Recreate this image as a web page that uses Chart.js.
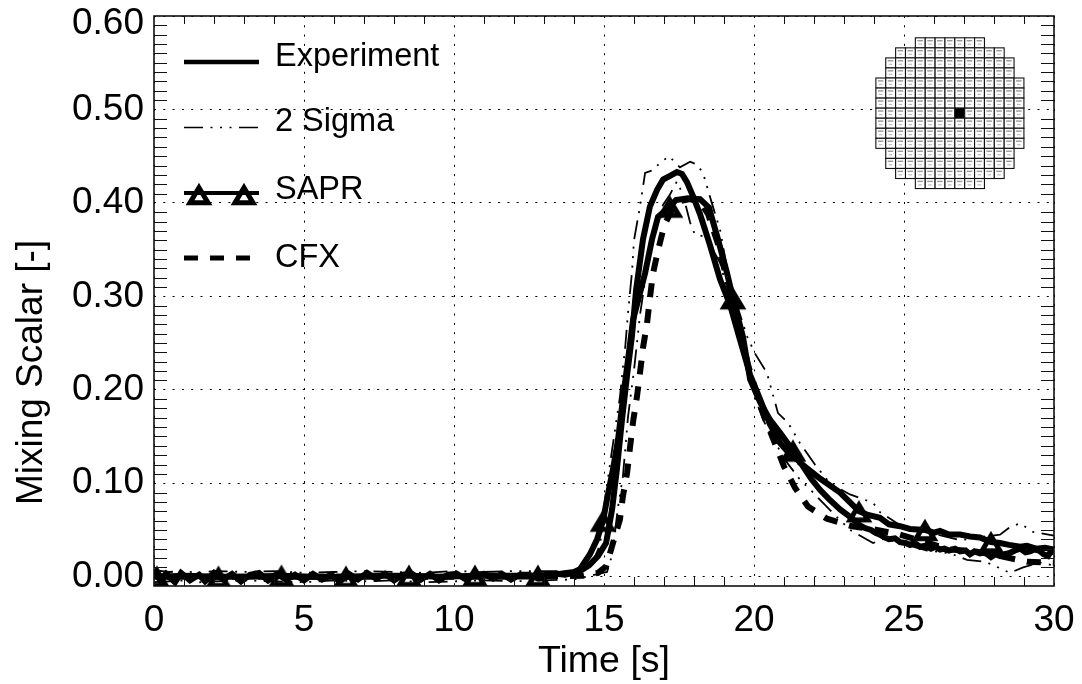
<!DOCTYPE html>
<html><head><meta charset="utf-8">
<style>html,body{margin:0;padding:0;background:#fff}canvas{display:block}#w{width:1082px;height:684px}</style>
<script src="https://cdn.jsdelivr.net/npm/chart.js@4"></script>
</head><body><div id="w"><canvas id="c" width="1082" height="684"></canvas></div>
<script>
const xTicks=[0,5,10,15,20,25,30];
const yTicks=[0,0.1,0.2,0.3,0.4,0.5,0.6];
const legendNames=["Experiment","2 Sigma","SAPR","CFX"];

const expT=[0,.2,.4,.7,.9,1.2,1.5,1.7,2,2.3,2.6,2.9,3.2,3.5,3.8,4.1,4.4,4.7,5,5.3,5.6,5.9,6.2,6.5,6.8,7.1,7.4,7.7,8,8.3,8.6,8.9,9.2,9.5,9.8,10.1,10.4,10.7,11,11.3,11.6,11.9,12.2,12.5,12.8,13.1,13.4,13.7,14,14.2,14.5,14.8,15.07,15.27,15.43,15.6,15.77,15.93,16.07,16.3,16.53,16.77,16.97,17.2,17.43,17.6,17.77,17.97,18.2,18.53,18.87,19.2,19.53,19.87,20.2,20.53,20.87,21.2,21.53,21.9,22.2,22.5,22.87,23.2,23.53,23.7,23.9,24.05,24.2,24.35,24.5,24.7,24.87,25.05,25.2,25.35,25.53,25.7,25.9,26.05,26.2,26.35,26.5,26.7,26.87,27.05,27.2,27.35,27.53,27.7,27.9,28.05,28.2,28.35,28.5,28.7,28.87,29.05,29.2,29.35,29.5,29.65,29.8,29.9,30];
const expV=[.008,-.004,.003,-.006,.004,-.004,.002,-.005,.004,-.003,.003,-.005,.002,.004,-.004,.003,-.003,.002,-.004,.003,-.003,.002,-.005,.003,-.003,.004,-.002,.003,-.004,.002,.003,-.003,.003,-.004,.002,.003,-.003,.002,.003,-.002,.003,-.003,.002,.002,-.002,.002,.003,.002,.004,.006,.012,.022,.036,.072,.115,.168,.216,.257,.307,.361,.396,.414,.425,.429,.433,.431,.422,.407,.388,.355,.318,.291,.254,.216,.19,.163,.143,.131,.123,.105,.093,.083,.072,.064,.055,.052,.05,.047,.045,.042,.04,.041,.037,.036,.034,.036,.032,.033,.03,.032,.029,.03,.028,.03,.027,.028,.024,.027,.025,.026,.021,.024,.022,.024,.025,.028,.03,.026,.027,.029,.028,.024,.022,.027,.026];

const saprT=[.1,1,2.15,3.2,4.25,5.3,6.4,7.4,8.5,9.6,10.7,11.8,12.8,13.5,14,14.2,14.53,14.77,14.97,15.13,15.3,15.47,15.63,15.8,15.97,16.37,16.6,16.8,17.2,17.4,17.8,18.2,18.5,18.8,19.1,19.3,19.63,19.87,20.2,20.53,20.87,21.3,21.53,22.2,22.87,23.5,23.8,24.2,24.5,24.87,25.2,25.7,26,26.2,26.5,26.87,27.2,27.53,27.9,28.2,28.5,28.87,29.1,29.4,29.7,30];
const saprV=[0,.001,0,0,.001,0,0,.001,.001,0,.001,.001,.001,.003,.005,.008,.024,.04,.06,.088,.115,.147,.19,.232,.275,.325,.361,.385,.396,.403,.405,.404,.395,.361,.325,.298,.257,.211,.187,.168,.154,.135,.122,.105,.09,.07,.066,.063,.056,.054,.051,.05,.047,.049,.045,.045,.043,.042,.037,.036,.034,.032,.033,.03,.031,.029];
const saprMarkers=[.1,2.15,4.25,6.4,8.5,10.7,12.8,14.97,17.2,19.3,21.3,23.5,25.7,27.9];

const upT=[0,.5,1,1.5,2,3,4,5,6,7,8,9,10,11,12,13,14,14.53,14.87,15.03,15.27,15.53,15.63,15.7,15.8,15.93,16,16.2,16.37,16.63,16.87,17.17,17.53,17.87,18.1,18.3,18.63,18.87,19.13,19.43,19.77,20.03,20.43,20.8,21.13,21.53,22.03,22.53,23.2,23.97,24.2,24.87,25.87,26.87,27.7,28.2,28.53,28.87,29.3,30];
const upV=[.007,.005,.006,.004,.006,.005,.006,.004,.005,.006,.005,.004,.006,.005,.006,.006,.006,.009,.034,.082,.136,.192,.224,.243,.282,.325,.36,.396,.432,.435,.443,.45,.438,.444,.441,.432,.396,.371,.325,.291,.257,.239,.218,.175,.165,.143,.12,.1,.088,.079,.069,.055,.047,.039,.043,.045,.053,.057,.048,.044];

const loT=[0,.5,1,1.5,2,3,4,5,6,7,8,9,10,11,12,13,14,15.1,15.27,15.47,15.63,15.8,16,16.2,16.47,16.7,16.97,17.2,17.43,17.63,17.87,18.03,18.37,18.87,19.63,20.03,20.3,20.6,21.03,21.53,21.97,22.63,23.2,23.97,24.37,24.87,25.77,26.53,27.1,27.7,28.2,28.53,28.97,29.53,30];
const loV=[-.006,-.005,-.004,-.006,-.005,-.004,-.005,-.006,-.004,-.005,-.004,-.006,-.005,-.004,-.005,-.004,-.003,.005,.023,.075,.107,.171,.221,.28,.339,.376,.398,.409,.423,.409,.379,.366,.364,.336,.243,.192,.168,.15,.125,.104,.09,.068,.05,.036,.041,.036,.028,.025,.018,.016,.009,.004,.01,.015,.012];

const cfxT=[0,3,6,9,12,14.3,14.8,15.07,15.3,15.53,15.63,15.77,15.87,15.97,16.1,16.2,16.3,16.43,16.53,16.63,16.8,17,17.27,17.53,17.87,18.2,18.47,18.8,19.1,19.43,19.8,20.17,20.43,20.73,21,21.37,21.8,22.43,23.27,24.1,24.87,25.7,26.53,27.37,28.2,29.1,30];
const cfxV=[0,0,0,0,0,.001,.004,.011,.036,.061,.086,.111,.139,.166,.193,.218,.245,.27,.298,.324,.349,.375,.393,.402,.404,.401,.388,.356,.318,.278,.227,.187,.164,.14,.118,.095,.075,.062,.054,.05,.045,.037,.029,.027,.022,.016,.015];

const insetRows=[7,11,13,13,15,15,15,15,15,15,15,13,13,11,7];
const insetCentre=[26.53,0.496];
const insetBlack=[7,8];

const FONT='"Liberation Sans", Arial, sans-serif';
const zip=(t,v)=>t.map((x,i)=>({x,y:v[i]}));

const tri=document.createElement('canvas');tri.width=36;tri.height=36;
(function(){const g=tri.getContext('2d');g.strokeStyle='#000';g.lineWidth=5;g.lineJoin='miter';g.miterLimit=10;
g.beginPath();g.moveTo(18,11.7);g.lineTo(27,26.7);g.lineTo(9,26.7);g.closePath();g.stroke();})();

const SIGMA=[19,7.5,2,7.5,2,7.5,2,7.5], CFXDASH=[14,12];

const frame={id:'frame',
 afterDraw(ch){
  const g=ch.ctx,a=ch.chartArea,sx=ch.scales.x,sy=ch.scales.y;
  g.save();
  g.setLineDash([]);
  // minor ticks
  g.fillStyle='#111';
  for(let t=1;t<30;t++){ if(xTicks.includes(t))continue;const p=Math.round(sx.getPixelForValue(t));
    g.fillRect(p,a.bottom-9,1,9);g.fillRect(p,a.top,1,8);}
  for(let k=0;k<60;k++){ if(k%10===0)continue;const p=Math.round(sy.getPixelForValue(k/100));
    g.fillRect(a.left,p,13,1);g.fillRect(a.right-13,p,13,1);}
  g.lineWidth=1.6;g.strokeStyle='#111';g.strokeRect(a.left,a.top,a.right-a.left,a.bottom-a.top);
  // top y label sits just inside the frame top
  g.fillStyle='#000';g.font='37px '+FONT;g.textAlign='right';g.textBaseline='middle';
  g.fillText(yTicks[yTicks.length-1].toFixed(2),144,24);
  // legend
  const L=184,R=259,ys=[62,127.5,193,258];
  const seg=(y,w,d)=>{g.lineWidth=w;g.setLineDash(d);g.strokeStyle='#000';g.beginPath();g.moveTo(L,y);g.lineTo(R,y);g.stroke();g.setLineDash([]);};
  seg(ys[0],4.5,[]);seg(ys[1],1.5,SIGMA);seg(ys[2],4,[]);seg(ys[3],5,CFXDASH);
  g.drawImage(tri,199-18,194-18);g.drawImage(tri,244-18,194-18);
  g.fillStyle='#000';g.font='32.5px '+FONT;g.textAlign='left';g.textBaseline='middle';
  const ty=[57,122,190,258];
  legendNames.forEach((n,i)=>g.fillText(n,275,ty[i]));
  // inset core map
  const cw=9.87,chh=10.05,n=insetRows.length;
  const cx=sx.getPixelForValue(insetCentre[0]),cy=sy.getPixelForValue(insetCentre[1]);
  const top=cy-n*chh/2;
  insetRows.forEach((m,r)=>{const l=cx-m*cw/2;for(let c=0;c<m;c++){
    const X=l+c*cw,Y=top+r*chh,col=c+(15-m)/2;
    const black=(r===insetBlack[0]&&col===insetBlack[1]);
    g.fillStyle=black?'#000':'#fff';g.fillRect(X,Y,cw,chh);
    if(!black){g.fillStyle='#999';g.fillRect(X+2,Y+2.2,5.5,1.4);g.fillStyle='#bbb';g.fillRect(X+3,Y+5.8,3.5,1.2);}
    g.strokeStyle='#111';g.lineWidth=1.1;g.strokeRect(X,Y,cw,chh);
  }});
  // y axis title
  g.fillStyle='#000';g.font='37px '+FONT;g.textAlign='center';g.textBaseline='alphabetic';
  g.translate(41.5,372.5);g.rotate(-Math.PI/2);g.fillText('Mixing Scalar [-]',0,0);
  g.restore();
 }};

new Chart(document.getElementById('c'),{
 type:'scatter',
 data:{datasets:[
  {label:'Experiment',data:zip(expT,expV),borderColor:'#000',borderWidth:6,showLine:true,pointRadius:0,tension:0},
  {label:'2 Sigma upper',data:zip(upT,upV),borderColor:'#000',borderWidth:1.8,borderDash:SIGMA,showLine:true,pointRadius:0,tension:0},
  {label:'2 Sigma lower',data:zip(loT,loV),borderColor:'#000',borderWidth:1.8,borderDash:SIGMA,showLine:true,pointRadius:0,tension:0},
  {label:'SAPR',data:zip(saprT,saprV),borderColor:'#000',borderWidth:6,showLine:true,tension:0,
   pointStyle:tri,pointRadius:c=>saprMarkers.includes(c.raw&&c.raw.x)?10:0,pointHoverRadius:0},
  {label:'CFX',data:zip(cfxT,cfxV),borderColor:'#000',borderWidth:6,borderDash:CFXDASH,showLine:true,pointRadius:0,tension:0}
 ]},
 options:{responsive:false,animation:false,devicePixelRatio:1,
  layout:{padding:{left:0,right:28,top:15.5,bottom:0}},
  plugins:{legend:{display:false},title:{display:false},tooltip:{enabled:false}},
  scales:{
   x:{type:'linear',min:0,max:30,afterBuildTicks:s=>{s.ticks=xTicks.map(v=>({value:v}));},
    afterFit:s=>{s.height=98;s.paddingLeft=0;s.paddingRight=0;},
    grid:{color:'#000',lineWidth:1,drawTicks:false},border:{display:false,dash:[2,7.3]},
    ticks:{color:'#000',font:{family:FONT,size:37},padding:13,maxRotation:0,autoSkip:false,callback:v=>String(v)},
    title:{display:true,text:'Time [s]',color:'#000',font:{family:FONT,size:37.5},padding:{top:0,bottom:0}}},
   y:{type:'linear',min:-0.01,max:0.6,afterBuildTicks:s=>{s.ticks=yTicks.map(v=>({value:v}));},
    afterFit:s=>{s.width=154;s.paddingTop=0;s.paddingBottom=0;},
    grid:{color:'#000',lineWidth:1,drawTicks:false},border:{display:false,dash:[2,7.3]},
    ticks:{color:'#000',font:{family:FONT,size:37},padding:10,autoSkip:false,callback:v=>v===yTicks[yTicks.length-1]?'':v.toFixed(2)}}
  }},
 plugins:[frame]
});
</script></body></html>
